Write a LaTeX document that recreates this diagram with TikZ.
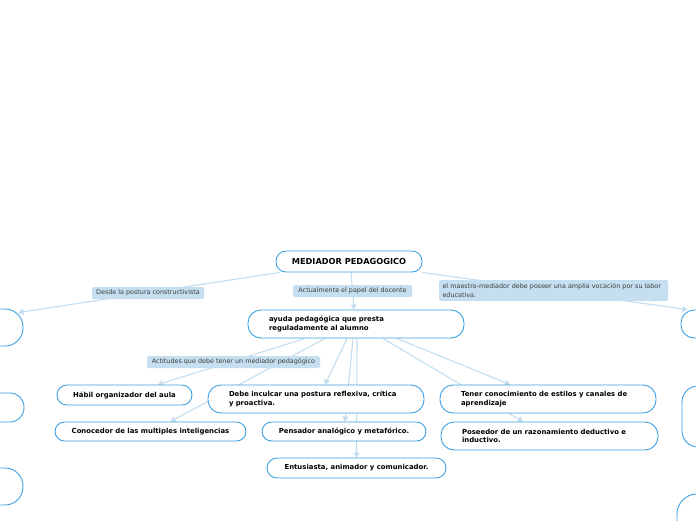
\documentclass[tikz,border=0pt]{standalone}
\usepackage{fontspec}
\setmainfont{DejaVu Sans}
\usetikzlibrary{arrows.meta}
\definecolor{nodeblue}{RGB}{60,160,225}
\definecolor{linkblue}{RGB}{195,222,240}
\definecolor{labfill}{RGB}{197,223,240}
\definecolor{labtext}{RGB}{60,60,60}
\pgfdeclarelayer{bg}
\pgfsetlayers{bg,main}
\begin{document}
\begin{tikzpicture}[x=1pt,y=-1pt,
  topic/.style={draw=nodeblue, line width=0.9pt, fill=white, rectangle, inner sep=0pt,
    font=\fontsize{6.9}{8.3}\selectfont\bfseries, text=black},
  multi/.style={inner xsep=21pt, align=left},
  lab/.style={fill=labfill, rounded corners=1.5pt, inner sep=0pt, text=labtext,
    font=\fontsize{6.4}{8.6}\selectfont},
  link/.style={draw=linkblue, line width=1.1pt, -{Triangle[length=5pt,width=6pt]}}]
\useasboundingbox (0,0) rectangle (696,520);
% main nodes
\node[topic, rounded corners=10pt, minimum width=146pt, minimum height=21pt,
  font=\fontsize{8.2}{9}\selectfont\bfseries] (med) at (349,261.5) {MEDIADOR PEDAGOGICO};
\node[topic, multi, rounded corners=13pt, text width=174pt, minimum height=28pt] (ayuda) at (356,324)
  {ayuda pedagógica que presta\\reguladamente al alumno};
% partial nodes at edges
\node[topic, rounded corners=18pt, minimum width=63pt, minimum height=37pt] (L1) at (-8.5,327.5) {};
\node[topic, rounded corners=14pt, minimum width=88pt, minimum height=29pt] (L2) at (-20,407.5) {};
\node[topic, rounded corners=18pt, minimum width=76pt, minimum height=37pt] (L3) at (-15,486.5) {};
\node[topic, rounded corners=13pt, minimum width=78pt, minimum height=28pt] (R1) at (720,324) {};
\node[topic, rounded corners=16pt, minimum width=116pt, minimum height=61pt] (R2) at (740,416.5) {};
\node[topic, rounded corners=20pt, minimum width=106pt, minimum height=72pt] (R3) at (730,530) {};
% children
\node[topic, rounded corners=10pt, minimum width=135pt, minimum height=20pt] (habil) at (124.5,395) {Hábil organizador del aula};
\node[topic, rounded corners=9.5pt, minimum width=191pt, minimum height=19pt] (conoc) at (150.5,431.5) {Conocedor de las multiples inteligencias};
\node[topic, multi, rounded corners=13pt, text width=174pt, minimum height=28pt] (debe) at (316,399)
  {Debe inculcar una postura reflexiva, crítica\\y proactiva.};
\node[topic, rounded corners=9.5pt, minimum width=164pt, minimum height=19pt] (pens) at (344,431.5) {Pensador analógico y metafórico.};
\node[topic, rounded corners=10pt, minimum width=179pt, minimum height=20pt] (entu) at (356.5,468) {Entusiasta, animador y comunicador.};
\node[topic, multi, rounded corners=13pt, text width=174pt, minimum height=28pt] (tener) at (548,399)
  {Tener conocimiento de estilos y canales de\\aprendizaje};
\node[topic, multi, rounded corners=13pt, text width=175pt, minimum height=28pt] (posee) at (549.5,436)
  {Poseedor de un razonamiento deductivo e\\inductivo.};
% connectors
\begin{pgfonlayer}{bg}
\fill[white] (0,0) rectangle (696,520);
\draw[link] ([xshift=4pt]med.south west) -- ([xshift=-5pt,yshift=-4pt]L1.north east);
\draw[link] ([xshift=2pt]med.south) -- ([xshift=-2pt]ayuda.north);
\draw[link] (med.south east) -- ([xshift=7pt]R1.north west);
\draw[link] ([xshift=-51pt]ayuda.south) -- ([xshift=33.5pt]habil.north);
\draw[link] ([xshift=-31pt]ayuda.south) -- ([xshift=20pt]conoc.north);
\draw[link] ([xshift=-9pt]ayuda.south) -- ([xshift=9pt]debe.north);
\draw[link] ([xshift=-3pt]ayuda.south) -- ([xshift=1pt]pens.north);
\draw[link] ([xshift=1pt]ayuda.south) -- ([xshift=0pt]entu.north);
\draw[link] ([xshift=41pt]ayuda.south) -- ([xshift=-38pt]tener.north);
\draw[link] ([xshift=27pt]ayuda.south) -- ([xshift=-26.5pt]posee.north);
\end{pgfonlayer}
% labels
\node[lab, minimum width=112pt, minimum height=12pt] (lab1) at (148,293) {Desde la postura constructivista};
\node[lab, minimum width=119pt, minimum height=12pt] (lab2) at (352.5,291) {Actualmente el papel del docente};
\node[lab, minimum width=229pt, minimum height=21pt, text width=222pt, inner xsep=3.5pt, align=left] (lab3) at (553.5,290.5)
  {el maestro-mediador debe poseer una amplia vocación por su labor\\educativa.};
\node[lab, minimum width=173pt, minimum height=12pt] (lab4) at (233.5,362) {Actitudes que debe tener un mediador pedagógico};
\end{tikzpicture}
\end{document}
